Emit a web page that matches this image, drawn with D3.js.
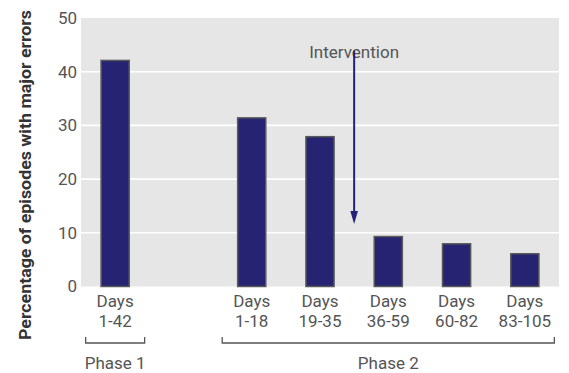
<!DOCTYPE html>
<html>
<head>
<meta charset="utf-8">
<script src="https://cdn.jsdelivr.net/npm/d3@7"></script>
<style>
  html, body { margin: 0; padding: 0; background: #fff; }
  svg { display: block; }
  text { font-family: Roboto, "Open Sans", sans-serif; }
</style>
</head>
<body>
<svg id="chart" width="569" height="373"></svg>
<script>
// ---- data ----
const categories = ["1-42", "gap", "1-18", "19-35", "36-59", "60-82", "83-105"];
const labelTop = ["Days", "", "Days", "Days", "Days", "Days", "Days"];
const labelBottom = ["1-42", "", "1-18", "19-35", "36-59", "60-82", "83-105"];
const values = [42.1, null, 31.4, 27.9, 9.3, 7.95, 6.1];
const yTicks = [0, 10, 20, 30, 40, 50];
const phases = [
  { name: "Phase 1", from: "1-42", to: "1-42" },
  { name: "Phase 2", from: "1-18", to: "83-105" }
];
const annotation = { text: "Intervention", between: ["19-35", "36-59"], top: 44, bottom: 12 };

// ---- layout ----
const svg = d3.select("#chart");
const plot = { left: 81, right: 559, top: 18, bottom: 286.5 };
const fs = 17;
const font = "Roboto, 'Open Sans', sans-serif";

const x = d3.scaleBand()
  .domain(categories)
  .range([plot.left, plot.right])
  .paddingInner(40 / 68)
  .paddingOuter(20 / 68);

const y = d3.scaleLinear().domain([0, 50]).range([plot.bottom, plot.top]);

// background
svg.append("rect")
  .attr("x", plot.left).attr("y", plot.top)
  .attr("width", plot.right - plot.left).attr("height", plot.bottom - plot.top)
  .attr("fill", "#e6e6e6");

// gridlines
svg.append("g").selectAll("line")
  .data(yTicks.filter(t => t > 0 && t < 50))
  .join("line")
  .attr("x1", plot.left).attr("x2", plot.right)
  .attr("y1", d => y(d)).attr("y2", d => y(d))
  .attr("stroke", "#ffffff").attr("stroke-width", 1.6);

// y axis
const yAxis = svg.append("g")
  .attr("transform", `translate(${plot.left},0)`)
  .call(d3.axisLeft(y).tickValues(yTicks).tickSize(0).tickPadding(4));
yAxis.select(".domain").remove();
yAxis.selectAll("text")
  .attr("font-family", font)
  .attr("font-size", fs)
  .attr("fill", "#555");

// y title
svg.append("text")
  .attr("transform", `translate(30.5,${(10 + 340) / 2}) rotate(-90)`)
  .attr("text-anchor", "middle")
  .attr("font-size", 16)
  .attr("font-weight", "bold")
  .attr("textLength", 330)
  .attr("lengthAdjust", "spacingAndGlyphs")
  .attr("fill", "#333")
  .text("Percentage of episodes with major errors");

// bars
const data = categories.map((c, i) => ({ c, v: values[i] })).filter(d => d.v != null);
svg.append("g").selectAll("rect")
  .data(data)
  .join("rect")
  .attr("x", d => x(d.c))
  .attr("y", d => y(d.v))
  .attr("width", x.bandwidth())
  .attr("height", d => y(0) - y(d.v))
  .attr("fill", "#262372")
  .attr("stroke", "#595959")
  .attr("stroke-width", 1.5);

// x labels
const lab = categories.map((c, i) => ({ c, t: labelTop[i], b: labelBottom[i] })).filter(d => d.t);
const xg = svg.append("g");
xg.selectAll("text.top")
  .data(lab).join("text").attr("class", "top")
  .attr("x", d => x(d.c) + x.bandwidth() / 2).attr("y", 306.5)
  .attr("text-anchor", "middle").attr("font-size", fs).attr("fill", "#555")
  .text(d => d.t);
xg.selectAll("text.bot")
  .data(lab).join("text").attr("class", "bot")
  .attr("x", d => x(d.c) + x.bandwidth() / 2).attr("y", 326.5)
  .attr("text-anchor", "middle").attr("font-size", fs).attr("fill", "#555")
  .text(d => d.b);

// phase brackets
const ext = 29.5;
phases.forEach(p => {
  const x0 = x(p.from) + x.bandwidth() / 2 - ext;
  const x1 = x(p.to) + x.bandwidth() / 2 + ext;
  svg.append("path")
    .attr("d", `M${x0},337 V343 H${x1} V337`)
    .attr("fill", "none").attr("stroke", "#555").attr("stroke-width", 1.3);
  svg.append("text")
    .attr("x", (x0 + x1) / 2).attr("y", 368.5)
    .attr("text-anchor", "middle")
    .attr("font-size", fs)
    .attr("fill", "#555")
    .text(p.name);
});

// intervention annotation
const ax = (x(annotation.between[0]) + x.bandwidth() + x(annotation.between[1])) / 2;
svg.append("text")
  .attr("x", ax).attr("y", 57.5)
  .attr("text-anchor", "middle")
  .attr("font-size", fs)
  .attr("fill", "#555")
  .text(annotation.text);
svg.append("line")
  .attr("x1", ax).attr("x2", ax)
  .attr("y1", y(annotation.top) + 0.5).attr("y2", y(annotation.bottom) - 10)
  .attr("stroke", "#22227a").attr("stroke-width", 2);
const tip = y(annotation.bottom) + 2;
svg.append("path")
  .attr("d", `M${ax - 3.8},${tip - 13} L${ax + 3.8},${tip - 13} L${ax},${tip} Z`)
  .attr("fill", "#22227a");
</script>
</body>
</html>
